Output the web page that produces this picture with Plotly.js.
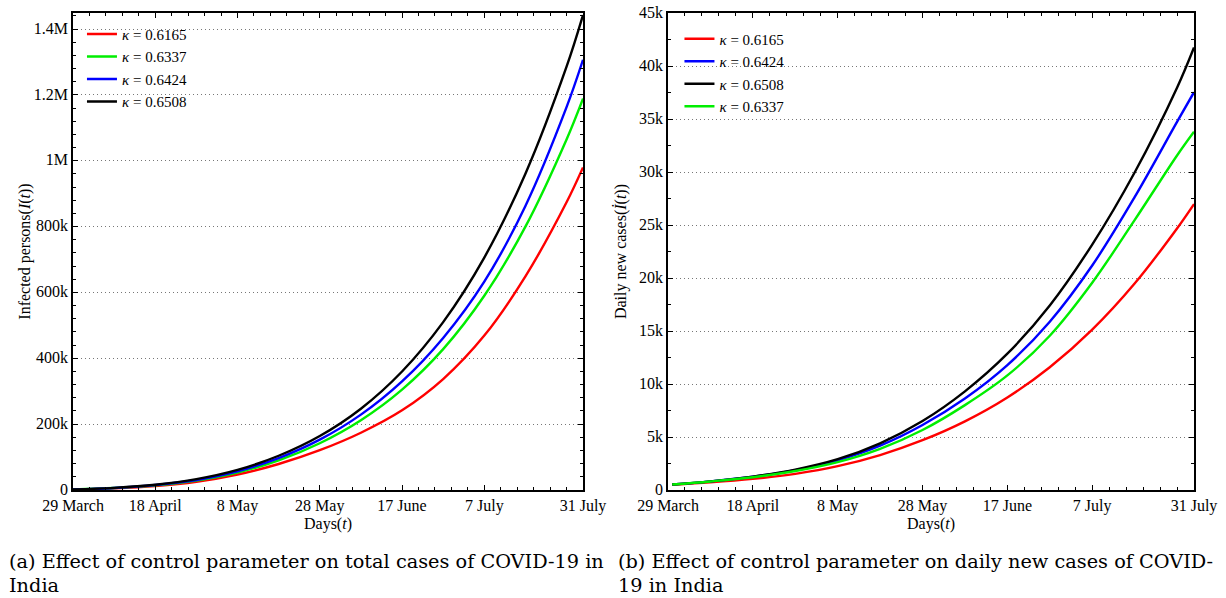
<!DOCTYPE html>
<html>
<head>
<meta charset="utf-8">
<script src="https://cdn.plot.ly/plotly-3.0.1.min.js"></script>
<style>html,body{margin:0;padding:0;background:#fff;}#chart{width:1226px;height:598px;}</style>
</head>
<body>
<div id="chart"></div>
<script>
// ---- data ----
const kappas = ["0.6165", "0.6337", "0.6424", "0.6508"];
const dayTickVals = [0, 20, 40, 60, 80, 100, 124];
const dayTickText = ["29 March", "18 April", "8 May", "28 May", "17 June", "7 July", "31 July"];

const daysTotal = [0, 10, 20, 30, 40, 50, 60, 70, 80, 90, 100, 110, 120, 124];
const totalK6165 = [1300, 5000, 12000, 25000, 47000, 79000, 121000, 174000, 242000, 337000, 469000, 649000, 874000, 980000];
const totalK6337 = [1500, 6000, 14000, 28500, 53000, 90000, 142000, 212000, 305000, 428000, 590000, 800000, 1065000, 1189000];
const totalK6424 = [1500, 6300, 15000, 30500, 57000, 97000, 153000, 229000, 330000, 462000, 633000, 863000, 1163000, 1307000];
const totalK6508 = [1500, 6500, 16000, 33000, 61000, 104000, 164000, 247000, 360000, 510000, 706000, 961000, 1286000, 1443000];

const daysDaily = [1, 10, 20, 30, 40, 50, 60, 70, 80, 90, 100, 110, 120, 124];
const dailyK6165 = [500, 716, 1046, 1526, 2246, 3296, 4696, 6476, 8726, 11576, 15126, 19476, 24676, 26976];
const dailyK6337 = [520, 808, 1208, 1788, 2628, 3878, 5658, 8008, 10808, 14558, 19558, 25458, 31558, 33798];
const dailyK6424 = [520, 817, 1247, 1877, 2797, 4177, 6127, 8627, 11777, 15877, 21177, 27627, 34727, 37527];
const dailyK6508 = [520, 817, 1267, 1927, 2907, 4407, 6507, 9307, 12857, 17407, 23157, 29957, 37957, 41757];

const totalTickVals = [0, 200000, 400000, 600000, 800000, 1000000, 1200000, 1400000];
const totalTickText = ["0", "200k", "400k", "600k", "800k", "1M", "1.2M", "1.4M"];
const dailyTickVals = [0, 5000, 10000, 15000, 20000, 25000, 30000, 35000, 40000, 45000];
const dailyTickText = ["0", "5k", "10k", "15k", "20k", "25k", "30k", "35k", "40k", "45k"];

const captionA = ["(a) Effect of control parameter on total cases of COVID-19 in", "India"];
const captionB = ["(b) Effect of control parameter on daily new cases of COVID-", "19 in India"];

const colors = {"0.6165": "#ff0000", "0.6337": "#00ee00", "0.6424": "#0000ff", "0.6508": "#000000"};

// ---- traces ----
const FONT = "Liberation Serif, Times New Roman, serif";
const CAPFONT = "DejaVu Serif, Liberation Serif, serif";
function tr(x, y, k, xa, ya, leg) {
  return {
    x: x, y: y, type: "scatter", mode: "lines",
    name: "<i>κ</i> = " + k,
    line: {color: colors[k], width: 2.4, shape: "spline", smoothing: 1},
    xaxis: xa, yaxis: ya, legend: leg, hoverinfo: "x+y"
  };
}
const totals = {"0.6165": totalK6165, "0.6337": totalK6337, "0.6424": totalK6424, "0.6508": totalK6508};
const dailies = {"0.6165": dailyK6165, "0.6337": dailyK6337, "0.6424": dailyK6424, "0.6508": dailyK6508};
const leftOrder = ["0.6165", "0.6337", "0.6424", "0.6508"];
const rightOrder = ["0.6165", "0.6424", "0.6508", "0.6337"];
const data = [];
leftOrder.forEach(k => data.push(tr(daysTotal, totals[k], k, "x", "y", "legend")));
rightOrder.forEach(k => data.push(tr(daysDaily, dailies[k], k, "x2", "y2", "legend2")));

function xAxis(domain, anchor) {
  return {
    domain: domain, anchor: anchor, range: [0, 124],
    tickmode: "array", tickvals: dayTickVals, ticktext: dayTickText,
    ticks: "inside", ticklen: 5, tickwidth: 1, tickcolor: "#000",
    ticklabelstandoff: 0,
    minor: {dtick: 4, tick0: 0, ticks: "inside", ticklen: 3, tickcolor: "#000", showgrid: false},
    showline: true, linecolor: "#000", linewidth: 1.5, mirror: "allticks",
    showgrid: false, zeroline: false,
    tickfont: {family: FONT, size: 16, color: "#000"},
    title: {text: "Days(<i>t</i>)", font: {family: FONT, size: 16, color: "#000"}, standoff: 1}
  };
}
function yAxis(range, vals, text, minorD, anchor, title) {
  return {
    domain: [0, 1], anchor: anchor, range: range,
    tickmode: "array", tickvals: vals, ticktext: text,
    ticks: "inside", ticklen: 5, tickwidth: 1, tickcolor: "#000",
    ticklabelshift: -1,
    minor: {dtick: minorD, tick0: 0, ticks: "inside", ticklen: 3, tickcolor: "#000", showgrid: false},
    showline: true, linecolor: "#000", linewidth: 1.5, mirror: "allticks",
    showgrid: true, gridcolor: "#777", griddash: "1px,3px", gridwidth: 1, zeroline: false,
    tickfont: {family: FONT, size: 16, color: "#000"},
    title: {text: title, font: {family: FONT, size: 16, color: "#000"}}
  };
}

const legendBase = {
  bgcolor: "rgba(0,0,0,0)", borderwidth: 0,
  font: {family: FONT, size: 15, color: "#000"},
  xanchor: "left", yanchor: "top", tracegroupgap: 0, itemwidth: 30
};

function cap(text, x, y) {
  return {xref: "paper", yref: "paper", x: x, y: y, xanchor: "left", yanchor: "middle", align: "left",
          showarrow: false, text: text, font: {family: CAPFONT, size: 19.3, color: "#000"}};
}

const layout = {
  width: 1226, height: 598,
  margin: {l: 73, r: 32, t: 13, b: 108},
  paper_bgcolor: "#fff", plot_bgcolor: "#fff",
  font: {family: FONT, color: "#000"},
  showlegend: true,
  xaxis: xAxis([0, 0.45495], "y"),
  yaxis: yAxis([0, 1449000], totalTickVals, totalTickText, 40000, "x", "Infected persons(<i>I</i>(<i>t</i>))"),
  xaxis2: xAxis([0.53078, 1], "y2"),
  yaxis2: yAxis([0, 45000], dailyTickVals, dailyTickText, 2500, "x2", "Daily new cases(<i>İ</i>(<i>t</i>))"),
  legend: Object.assign({x: 0.008, y: 0.99}, legendBase),
  legend2: Object.assign({x: 0.541, y: 0.98}, legendBase),
  annotations: [
    cap(captionA[0], -0.0585, -0.1509),
    cap(captionA[1], -0.0585, -0.1992),
    cap(captionB[0], 0.4844, -0.1509),
    cap(captionB[1], 0.4844, -0.1992)
  ]
};

Plotly.newPlot("chart", data, layout, {displayModeBar: false, responsive: false});
</script>
</body>
</html>
